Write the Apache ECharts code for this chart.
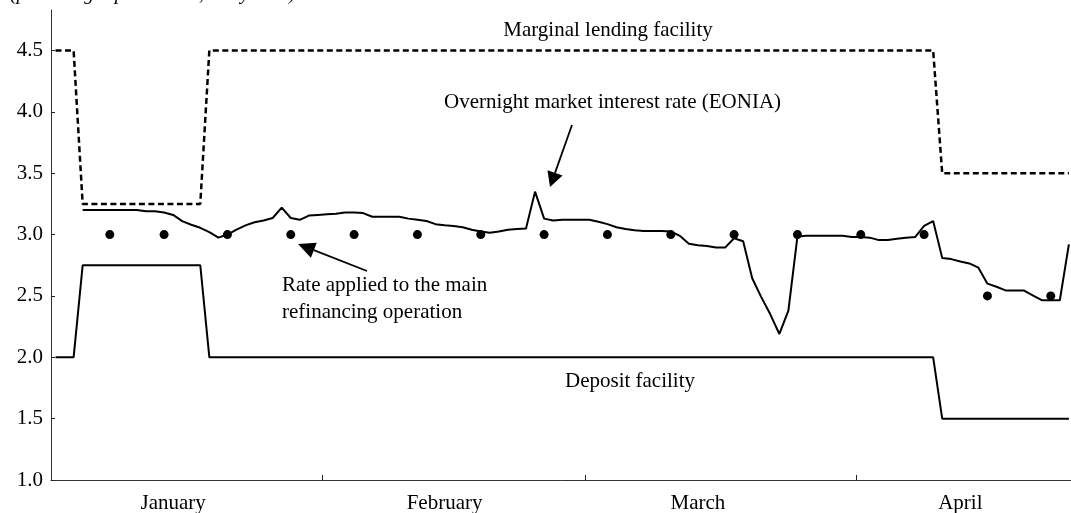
<!DOCTYPE html>
<html>
<head>
<meta charset="utf-8">
<script src="https://cdn.jsdelivr.net/npm/echarts@6.0.0/dist/echarts.min.js"></script>
<style>
  html, body { margin: 0; padding: 0; background: #fff; }
  #chart { width: 1071px; height: 513px; }
</style>
</head>
<body>
<div id="chart"></div>
<script>
// daily calendar categories, 1 Jan 1999 .. 23 Apr 1999
const days = [];
for (let d = new Date(Date.UTC(1999, 0, 1)); days.length < 113; d.setUTCDate(d.getUTCDate() + 1)) {
  days.push(d.toISOString().slice(0, 10));
}

const monthNames = ['January', 'February', 'March', 'April'];
const monthLabelIdx = [13, 43, 71, 100];      // category where each month name sits
const monthTickPos = [29.5, 58.5, 88.5];      // day-index boundaries carrying a tick
const yTicks = [1.0, 1.5, 2.0, 2.5, 3.0, 3.5, 4.0, 4.5];

// marginal lending facility (dotted)
const lending = [
  4.5, 4.5, 4.5,
  3.25, 3.25, 3.25, 3.25, 3.25, 3.25, 3.25, 3.25, 3.25, 3.25, 3.25, 3.25, 3.25, 3.25,
  4.5, 4.5, 4.5, 4.5, 4.5, 4.5, 4.5, 4.5, 4.5, 4.5, 4.5, 4.5, 4.5, 4.5, 4.5, 4.5, 4.5, 4.5, 4.5, 4.5,
  4.5, 4.5, 4.5, 4.5, 4.5, 4.5, 4.5, 4.5, 4.5, 4.5, 4.5, 4.5, 4.5, 4.5, 4.5, 4.5, 4.5, 4.5, 4.5, 4.5,
  4.5, 4.5, 4.5, 4.5, 4.5, 4.5, 4.5, 4.5, 4.5, 4.5, 4.5, 4.5, 4.5, 4.5, 4.5, 4.5, 4.5, 4.5, 4.5, 4.5,
  4.5, 4.5, 4.5, 4.5, 4.5, 4.5, 4.5, 4.5, 4.5, 4.5, 4.5, 4.5, 4.5, 4.5, 4.5, 4.5, 4.5, 4.5, 4.5, 4.5,
  4.5,
  3.5, 3.5, 3.5, 3.5, 3.5, 3.5, 3.5, 3.5, 3.5, 3.5, 3.5, 3.5, 3.5, 3.5, 3.5
];

// deposit facility
const deposit = [
  2.0, 2.0, 2.0,
  2.75, 2.75, 2.75, 2.75, 2.75, 2.75, 2.75, 2.75, 2.75, 2.75, 2.75, 2.75, 2.75, 2.75,
  2.0, 2.0, 2.0, 2.0, 2.0, 2.0, 2.0, 2.0, 2.0, 2.0, 2.0, 2.0, 2.0, 2.0, 2.0, 2.0, 2.0, 2.0, 2.0, 2.0,
  2.0, 2.0, 2.0, 2.0, 2.0, 2.0, 2.0, 2.0, 2.0, 2.0, 2.0, 2.0, 2.0, 2.0, 2.0, 2.0, 2.0, 2.0, 2.0, 2.0,
  2.0, 2.0, 2.0, 2.0, 2.0, 2.0, 2.0, 2.0, 2.0, 2.0, 2.0, 2.0, 2.0, 2.0, 2.0, 2.0, 2.0, 2.0, 2.0, 2.0,
  2.0, 2.0, 2.0, 2.0, 2.0, 2.0, 2.0, 2.0, 2.0, 2.0, 2.0, 2.0, 2.0, 2.0, 2.0, 2.0, 2.0, 2.0, 2.0, 2.0,
  2.0,
  1.5, 1.5, 1.5, 1.5, 1.5, 1.5, 1.5, 1.5, 1.5, 1.5, 1.5, 1.5, 1.5, 1.5, 1.5
];

// overnight market rate (EONIA)
const eonia = [
  null, null, null,
  3.20, 3.20, 3.20, 3.20, 3.20, 3.20, 3.20, 3.19, 3.19, 3.18, 3.16, 3.11, 3.08, 3.055,
  3.02, 2.975, 3.00, 3.04, 3.075, 3.10, 3.115, 3.135, 3.22, 3.135, 3.12, 3.155, 3.16, 3.165,
  3.17, 3.18, 3.18, 3.175, 3.145, 3.145, 3.145, 3.145, 3.13, 3.12, 3.11, 3.085, 3.075, 3.07,
  3.06, 3.04, 3.025, 3.015, 3.025, 3.04, 3.045, 3.05, 3.35, 3.13, 3.115, 3.12, 3.12, 3.12,
  3.12, 3.105, 3.085, 3.06, 3.045, 3.035, 3.03, 3.03, 3.03, 3.025, 2.99, 2.925, 2.913, 2.907,
  2.894, 2.894, 2.97, 2.946, 2.644, 2.49, 2.35, 2.19, 2.38, 2.985, 2.99, 2.99, 2.99, 2.99,
  2.99, 2.98, 2.98, 2.975, 2.955, 2.955, 2.965, 2.975, 2.98, 3.07, 3.11, 2.81, 2.80, 2.78,
  2.765, 2.73, 2.60, 2.575, 2.545, 2.545, 2.545, 2.505, 2.465, 2.465, 2.465, 2.92
];

// main refinancing operation rate, weekly tenders
const mroIdx = [6, 12, 19, 26, 33, 40, 47, 54, 61, 68, 75, 82, 89, 96, 103, 110];
const mroRate = [3.0, 3.0, 3.0, 3.0, 3.0, 3.0, 3.0, 3.0, 3.0, 3.0, 3.0, 3.0, 3.0, 3.0, 2.5, 2.5];

const mro = days.map(() => null);
mroIdx.forEach((i, k) => { mro[i] = mroRate[k]; });

const FONT = '"Liberation Serif", "Times New Roman", serif';

function arrow(tail, tip, len, half) {
  const dx = tip[0] - tail[0], dy = tip[1] - tail[1];
  const l = Math.sqrt(dx * dx + dy * dy);
  const ux = dx / l, uy = dy / l;
  const bx = tip[0] - ux * len, by = tip[1] - uy * len;
  return [
    { type: 'line', silent: true, shape: { x1: tail[0], y1: tail[1], x2: bx, y2: by },
      style: { stroke: '#000', lineWidth: 1.8 } },
    { type: 'polygon', silent: true,
      shape: { points: [tip, [bx - uy * half, by + ux * half], [bx + uy * half, by - ux * half]] },
      style: { fill: '#000' } }
  ];
}

function label(text, x, y, align, size, italic) {
  return {
    type: 'text', silent: true, x: x, y: y,
    style: { text: text, fill: '#000', font: (italic ? 'italic ' : '') + size + 'px ' + FONT,
      align: align, verticalAlign: 'middle' }
  };
}

const chart = echarts.init(document.getElementById('chart'));
chart.setOption({
  animation: false,
  backgroundColor: '#fff',
  grid: { left: 51, top: 10, width: 1022.4, height: 470, containLabel: false, outerBoundsMode: 'none' },
  xAxis: [{
    type: 'category',
    data: days,
    boundaryGap: true,
    axisLine: { lineStyle: { color: '#333', width: 1 } },
    axisTick: { show: false },
    axisLabel: {
      interval: (i) => monthLabelIdx.indexOf(i) >= 0,
      formatter: (v, i) => monthNames[monthLabelIdx.indexOf(i)] || '',
      color: '#000', fontFamily: FONT, fontSize: 21, margin: 13
    },
    splitLine: { show: false }
  }, {
    // same day scale as a number line, only to carry the month boundary ticks
    type: 'value', position: 'bottom', min: -0.5, max: 112.5,
    axisLine: { show: false },
    axisLabel: { show: false },
    splitLine: { show: false },
    axisTick: { show: true, inside: true, length: 5, customValues: monthTickPos,
      lineStyle: { color: '#222', width: 1 } }
  }],
  yAxis: {
    type: 'value',
    min: 1, max: 4.83,
    axisLine: { show: true, onZero: false, lineStyle: { color: '#333', width: 1 } },
    axisTick: { show: true, inside: true, length: 4, customValues: yTicks, lineStyle: { color: '#222' } },
    axisLabel: {
      customValues: yTicks,
      formatter: (v) => v.toFixed(1),
      color: '#000', fontFamily: FONT, fontSize: 21, margin: 8
    },
    splitLine: { show: false }
  },
  series: [
    { name: 'Marginal lending facility', type: 'line', data: lending, showSymbol: false,
      lineStyle: { color: '#000', width: 2.5, type: [6, 3.5] } },
    { name: 'Deposit facility', type: 'line', data: deposit, showSymbol: false,
      lineStyle: { color: '#000', width: 2 } },
    { name: 'Overnight market interest rate (EONIA)', type: 'line', data: eonia, showSymbol: false,
      lineStyle: { color: '#000', width: 2 } },
    { name: 'Rate applied to the main refinancing operation', type: 'scatter', data: mro,
      symbol: 'circle', symbolSize: 9, itemStyle: { color: '#000', opacity: 1 } }
  ],
  graphic: [
    label('(percentages per annum; daily data)', 10, -5, 'left', 19.5, true),
    label('Marginal lending facility', 608, 30, 'center', 21),
    label('Overnight market interest rate (EONIA)', 444, 102, 'left', 21),
    label('Rate applied to the main', 282, 285, 'left', 21),
    label('refinancing operation', 282, 312, 'left', 21),
    label('Deposit facility', 630, 381, 'center', 21),
    ...arrow([572, 125], [550, 187], 15, 8),
    ...arrow([367, 271], [298, 244], 17, 8)
  ]
});
</script>
</body>
</html>
